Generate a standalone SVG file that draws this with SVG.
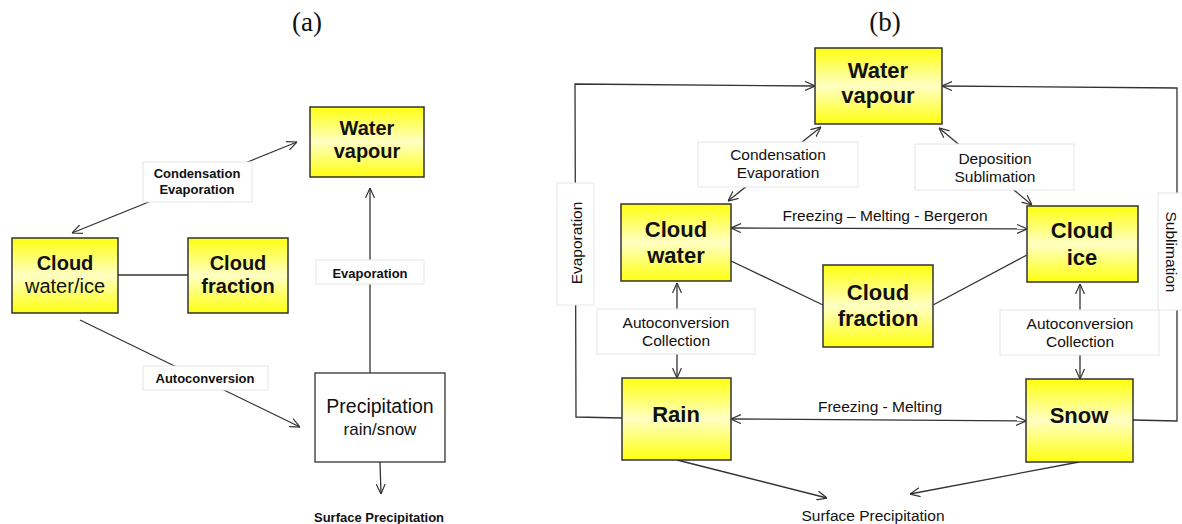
<svg xmlns="http://www.w3.org/2000/svg" width="1182" height="524" viewBox="0 0 1182 524">
<defs>
<linearGradient id="yel" x1="0" y1="0" x2="0" y2="1">
<stop offset="0" stop-color="#ffff10"/>
<stop offset="0.5" stop-color="#ffffc4"/>
<stop offset="1" stop-color="#ffff10"/>
</linearGradient>
<marker id="arr" viewBox="0 0 10 10" refX="10" refY="5" markerWidth="10" markerHeight="10" markerUnits="userSpaceOnUse" orient="auto-start-reverse">
<path d="M0,0.5 L10,5 L0,9.5" fill="none" stroke="#333" stroke-width="1.2"/>
</marker>
<style>
.box{fill:url(#yel);stroke:#333;stroke-width:1.5}
.wbox{fill:#fff;stroke:#333;stroke-width:1.3}
.lbl{fill:#fff;stroke:#e6e6e6;stroke-width:1}
.ln{fill:none;stroke:#333;stroke-width:1.3}
.t{font-family:"Liberation Sans",Arial,sans-serif;fill:#111;text-anchor:middle}
.tb{font-weight:bold}
.big{font-size:20px}
.bigb{font-size:22px;font-weight:bold}
.la{font-size:13px;font-weight:bold}
.lb{font-size:15.5px}
.cap{font-family:"Liberation Serif","Times New Roman",serif;font-size:27px;fill:#111;text-anchor:middle}
</style>
</defs>
<rect width="1182" height="524" fill="#fff"/>

<text class="cap" x="307" y="31">(a)</text>
<text class="cap" x="885" y="31">(b)</text>

<g id="connectors">
<!-- panel a -->
<line class="ln" x1="72" y1="233" x2="297" y2="142" marker-start="url(#arr)" marker-end="url(#arr)"/>
<line class="ln" x1="118" y1="275" x2="188" y2="275"/>
<line class="ln" x1="370" y1="373" x2="370" y2="188" marker-end="url(#arr)"/>
<line class="ln" x1="80" y1="320" x2="300" y2="427" marker-end="url(#arr)"/>
<line class="ln" x1="380" y1="462" x2="381" y2="494" marker-end="url(#arr)"/>
<!-- panel b -->
<polyline class="ln" points="622,418 576,417 575,84 815,86" marker-end="url(#arr)"/>
<polyline class="ln" points="1133,420 1177,421 1177,88 942,86" marker-end="url(#arr)"/>
<line class="ln" x1="728" y1="201" x2="821" y2="127" marker-start="url(#arr)" marker-end="url(#arr)"/>
<line class="ln" x1="939" y1="128" x2="1032" y2="205" marker-start="url(#arr)" marker-end="url(#arr)"/>
<line class="ln" x1="731" y1="228" x2="1027" y2="229" marker-start="url(#arr)" marker-end="url(#arr)"/>
<line class="ln" x1="731" y1="261" x2="823" y2="305"/>
<line class="ln" x1="933" y1="305" x2="1027" y2="255"/>
<line class="ln" x1="677" y1="283" x2="677" y2="378" marker-start="url(#arr)" marker-end="url(#arr)"/>
<line class="ln" x1="1080" y1="284" x2="1080" y2="379" marker-start="url(#arr)" marker-end="url(#arr)"/>
<line class="ln" x1="731" y1="419" x2="1026" y2="421" marker-start="url(#arr)" marker-end="url(#arr)"/>
<line class="ln" x1="677" y1="460" x2="827" y2="498" marker-end="url(#arr)"/>
<line class="ln" x1="1079" y1="462" x2="910" y2="494" marker-end="url(#arr)"/>
</g>

<g id="labels">
<g id="lbl-a-cond"><rect class="lbl" x="143" y="162" width="109" height="40"/>
<text class="t la" x="197" y="178">Condensation</text><text class="t la" x="197" y="194">Evaporation</text></g>
<g id="lbl-a-evap"><rect class="lbl" x="316" y="260" width="108" height="24"/>
<text class="t la" x="370" y="278">Evaporation</text></g>
<g id="lbl-a-auto"><rect class="lbl" x="143" y="366" width="125" height="24"/>
<text class="t la" x="205" y="383">Autoconversion</text></g>
<text class="t la" x="379" y="522">Surface Precipitation</text>

<g id="lbl-b-cond"><rect class="lbl" x="698" y="142" width="160" height="45"/>
<text class="t lb" x="778" y="160">Condensation</text><text class="t lb" x="778" y="178">Evaporation</text></g>
<g id="lbl-b-dep"><rect class="lbl" x="915" y="144" width="159" height="46"/>
<text class="t lb" x="995" y="164">Deposition</text><text class="t lb" x="995" y="182">Sublimation</text></g>
<text class="t lb" x="885" y="221">Freezing – Melting - Bergeron</text>
<g id="lbl-b-auto1"><rect class="lbl" x="597" y="309" width="158" height="45"/>
<text class="t lb" x="676" y="328">Autoconversion</text><text class="t lb" x="676" y="346">Collection</text></g>
<g id="lbl-b-auto2"><rect class="lbl" x="1000" y="310" width="159" height="45"/>
<text class="t lb" x="1080" y="329">Autoconversion</text><text class="t lb" x="1080" y="347">Collection</text></g>
<text class="t lb" x="880" y="412">Freezing - Melting</text>
<g id="lbl-b-evap"><rect class="lbl" x="557" y="183" width="37" height="122"/>
<text class="t lb" transform="translate(582,243) rotate(-90)" x="0" y="0">Evaporation</text></g>
<g id="lbl-b-subl"><rect class="lbl" x="1158" y="193" width="30" height="117"/>
<text class="t lb" transform="translate(1166,252) rotate(90)" x="0" y="0">Sublimation</text></g>
<text class="t lb" x="873" y="521">Surface Precipitation</text>
</g>

<g id="a-water-vapour"><rect class="box" x="310" y="107" width="114" height="70"/>
<text class="t tb big" x="367" y="135">Water</text><text class="t tb big" x="367" y="158">vapour</text></g>
<g id="a-cloud-water-ice"><rect class="box" x="12" y="238" width="106" height="75"/>
<text class="t tb big" x="65" y="270">Cloud</text><text class="t big" x="65" y="293">water/ice</text></g>
<g id="a-cloud-fraction"><rect class="box" x="188" y="238" width="100" height="75"/>
<text class="t tb big" x="238" y="270">Cloud</text><text class="t tb big" x="238" y="293">fraction</text></g>
<g id="a-precipitation"><rect class="wbox" x="315" y="373" width="130" height="89"/>
<text class="t" style="font-size:19.5px" x="380" y="413">Precipitation</text><text class="t" style="font-size:17px" x="380" y="435">rain/snow</text></g>

<g id="b-water-vapour"><rect class="box" x="815" y="48" width="127" height="76"/>
<text class="t bigb" x="878" y="78">Water</text><text class="t bigb" x="878" y="103">vapour</text></g>
<g id="b-cloud-water"><rect class="box" x="621" y="204" width="110" height="77"/>
<text class="t bigb" x="676" y="237">Cloud</text><text class="t bigb" x="676" y="263">water</text></g>
<g id="b-cloud-ice"><rect class="box" x="1027" y="206" width="111" height="76"/>
<text class="t bigb" x="1082" y="238">Cloud</text><text class="t bigb" x="1082" y="265">ice</text></g>
<g id="b-cloud-fraction"><rect class="box" x="823" y="265" width="110" height="82"/>
<text class="t bigb" x="878" y="300">Cloud</text><text class="t bigb" x="878" y="326">fraction</text></g>
<g id="b-rain"><rect class="box" x="622" y="378" width="109" height="82"/>
<text class="t bigb" x="676" y="422">Rain</text></g>
<g id="b-snow"><rect class="box" x="1026" y="379" width="107" height="83"/>
<text class="t bigb" x="1079" y="423">Snow</text></g>
</svg>
